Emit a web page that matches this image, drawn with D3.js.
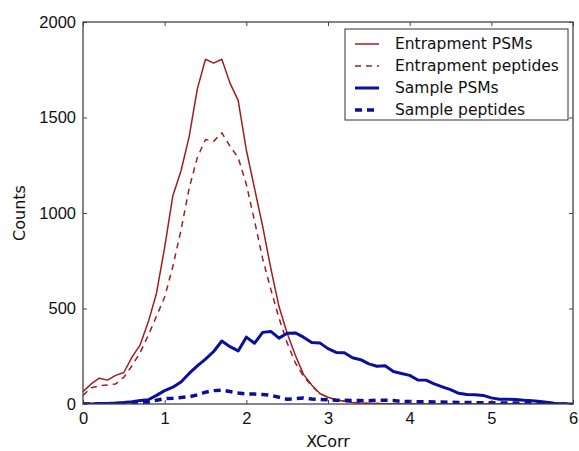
<!DOCTYPE html>
<html>
<head>
<meta charset="utf-8">
<script src="https://cdn.jsdelivr.net/npm/d3@7"></script>
<style>
  html, body { margin: 0; padding: 0; background: #fff; }
  svg { display: block; font-family: "DejaVu Sans", sans-serif; }
</style>
</head>
<body>
<div id="chart"></div>
<script>
// XCorr bins (step 0.1)
const xcorr = d3.range(0, 61).map(i => +(i / 10).toFixed(1));

const entrapmentPSMs = [65, 105, 135, 125, 150, 165, 245, 310, 430, 580,
  820, 1090, 1220, 1400, 1650, 1805, 1785, 1805, 1680, 1590,
  1330, 1130, 930, 710, 510, 370, 255, 155, 100, 55,
  35, 22, 15, 8, 5, 3, 2, 1, 1, 0,
  0, 0, 0, 0, 0, 0, 0, 0, 0, 0,
  0, 0, 0, 0, 0, 0, 0, 0, 0, 0, 0];

const entrapmentPeptides = [45, 85, 95, 100, 105, 140, 200, 270, 360, 460,
  560, 720, 910, 1130, 1290, 1385, 1375, 1420, 1350, 1290,
  1150, 960, 760, 600, 450, 320, 215, 145, 95, 55,
  35, 22, 14, 8, 5, 3, 2, 1, 1, 0,
  0, 0, 0, 0, 0, 0, 0, 0, 0, 0,
  0, 0, 0, 0, 0, 0, 0, 0, 0, 0, 0];

const samplePSMs = [0, 0, 2, 3, 5, 8, 12, 18, 22, 45,
  70, 88, 115, 160, 200, 235, 275, 330, 300, 278,
  350, 318, 375, 380, 345, 370, 372, 350, 322, 320,
  290, 270, 268, 242, 232, 210, 198, 200, 170, 160,
  150, 126, 125, 105, 90, 75, 56, 50, 48, 45,
  32, 25, 25, 24, 20, 17, 13, 8, 2, 0, 0];

const samplePeptides = [0, 0, 0, 1, 1, 2, 3, 5, 10, 20,
  28, 30, 34, 38, 48, 62, 70, 73, 65, 58,
  52, 52, 50, 46, 35, 25, 28, 32, 26, 24,
  22, 20, 20, 18, 18, 17, 20, 20, 18, 14,
  13, 12, 12, 10, 10, 9, 8, 8, 7, 7,
  6, 5, 5, 5, 4, 4, 3, 2, 1, 0, 0];

const xTicks = [0, 1, 2, 3, 4, 5, 6];
const yTicks = [0, 500, 1000, 1500, 2000];

const series = [
  { name: "Entrapment PSMs", values: entrapmentPSMs, color: "#a11d1d", width: 1.5, dash: null },
  { name: "Entrapment peptides", values: entrapmentPeptides, color: "#a11d1d", width: 1.5, dash: "6,5" },
  { name: "Sample PSMs", values: samplePSMs, color: "#0a109c", width: 3, dash: null },
  { name: "Sample peptides", values: samplePeptides, color: "#0a109c", width: 3.5, dash: "7,5" }
];

const W = 579, H = 451;
const margin = { top: 22, right: 6, bottom: 47, left: 83 };
const iw = W - margin.left - margin.right;
const ih = H - margin.top - margin.bottom;

const svg = d3.select("#chart").append("svg")
  .attr("width", W)
  .attr("height", H);

const x = d3.scaleLinear().domain([0, 6]).range([margin.left, margin.left + iw]);
const y = d3.scaleLinear().domain([0, 2000]).range([margin.top + ih, margin.top]);

// lines, clipped to the axes box
svg.append("clipPath").attr("id", "clip")
  .append("rect")
  .attr("x", margin.left).attr("y", margin.top)
  .attr("width", iw).attr("height", ih);

const line = d3.line()
  .x((d, i) => x(xcorr[i]))
  .y(d => y(d));

const plot = svg.append("g").attr("clip-path", "url(#clip)");
series.forEach(s => {
  plot.append("path")
    .datum(s.values)
    .attr("fill", "none")
    .attr("stroke", s.color)
    .attr("stroke-width", s.width)
    .attr("stroke-dasharray", s.dash)
    .attr("stroke-linejoin", "round")
    .attr("d", line);
});

// axes, ticks inward on all four sides
const tickLen = 4;
const axisColor = "#444";

const gBottom = svg.append("g")
  .attr("transform", `translate(0,${margin.top + ih})`)
  .call(d3.axisBottom(x).tickValues(xTicks).tickFormat(d3.format("d")).tickSizeInner(-tickLen).tickSizeOuter(0).tickPadding(8));
const gTop = svg.append("g")
  .attr("transform", `translate(0,${margin.top})`)
  .call(d3.axisTop(x).tickValues(xTicks).tickFormat("").tickSizeInner(-tickLen).tickSizeOuter(0));
const gLeft = svg.append("g")
  .attr("transform", `translate(${margin.left},0)`)
  .call(d3.axisLeft(y).tickValues(yTicks).tickFormat(d3.format("d")).tickSizeInner(-tickLen).tickSizeOuter(0).tickPadding(7));
const gRight = svg.append("g")
  .attr("transform", `translate(${margin.left + iw},0)`)
  .call(d3.axisRight(y).tickValues(yTicks).tickFormat("").tickSizeInner(-tickLen).tickSizeOuter(0));

[gBottom, gTop, gLeft, gRight].forEach(g => {
  g.select(".domain").remove();
  g.selectAll("line").attr("stroke", axisColor).attr("stroke-width", 1);
  g.selectAll("text").attr("fill", "#111").style("font-size", "16.5px");
});

svg.append("rect")
  .attr("x", margin.left).attr("y", margin.top)
  .attr("width", iw).attr("height", ih)
  .attr("fill", "none")
  .attr("stroke", axisColor)
  .attr("stroke-width", 1.3);

// axis labels
svg.append("text")
  .attr("x", margin.left + iw / 2)
  .attr("y", 447)
  .attr("text-anchor", "middle")
  .attr("fill", "#111")
  .style("font-size", "16px")
  .text("XCorr");

svg.append("text")
  .attr("transform", `translate(25,${margin.top + ih / 2}) rotate(-90)`)
  .attr("text-anchor", "middle")
  .attr("fill", "#111")
  .style("font-size", "16px")
  .text("Counts");

// legend
const legend = svg.append("g").attr("transform", "translate(345,29)");
legend.append("rect")
  .attr("width", 223).attr("height", 91)
  .attr("fill", "#fff")
  .attr("stroke", "#333")
  .attr("stroke-width", 1);

series.forEach((s, i) => {
  const yy = 15 + i * 22;
  legend.append("line")
    .attr("x1", 10).attr("x2", 34)
    .attr("y1", yy).attr("y2", yy)
    .attr("stroke", s.color)
    .attr("stroke-width", s.width)
    .attr("stroke-dasharray", s.dash);
  legend.append("text")
    .attr("x", 50).attr("y", yy)
    .attr("dy", "0.35em")
    .attr("fill", "#111")
    .style("font-size", "15.5px")
    .text(s.name);
});
</script>
</body>
</html>
